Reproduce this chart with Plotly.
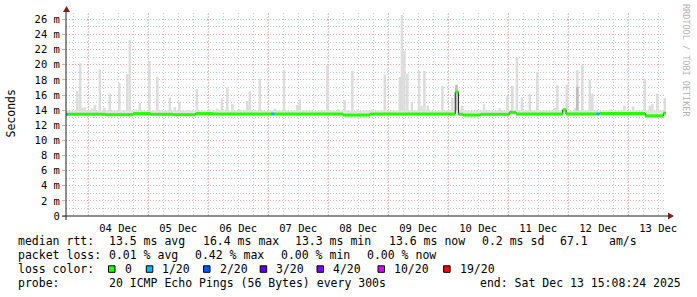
import plotly.graph_objects as go
import pandas as pd

# ---------------- data ----------------
t_start = "2025-12-03 15:08:24"
t_end = "2025-12-13 15:08:24"

day_label_times = ["2025-12-04 12:00", "2025-12-05 12:00", "2025-12-06 12:00", "2025-12-07 12:00",
                   "2025-12-08 12:00", "2025-12-09 12:00", "2025-12-10 12:00", "2025-12-11 12:00",
                   "2025-12-12 12:00", "2025-12-13 12:00"]
day_labels = ["04 Dec", "05 Dec", "06 Dec", "07 Dec", "08 Dec", "09 Dec", "10 Dec", "11 Dec", "12 Dec", "13 Dec"]
midnights = ["2025-12-04", "2025-12-05", "2025-12-06", "2025-12-07", "2025-12-08",
             "2025-12-09", "2025-12-10", "2025-12-11", "2025-12-12", "2025-12-13"]

y_tick_vals = [0, 2, 4, 6, 8, 10, 12, 14, 16, 18, 20, 22, 24, 26]
y_tick_text = ["0", "2 m", "4 m", "6 m", "8 m", "10 m", "12 m", "14 m", "16 m", "18 m",
               "20 m", "22 m", "24 m", "26 m"]

# smoke (max ping per hour, ms) where it rises above the background
smoke_times = [
    "2025-12-03 19:40", "2025-12-03 20:50", "2025-12-03 21:40", "2025-12-03 22:40",
    "2025-12-04 01:40", "2025-12-04 02:40", "2025-12-04 04:40", "2025-12-04 06:30",
    "2025-12-04 08:40", "2025-12-04 12:30", "2025-12-04 15:40", "2025-12-04 16:40",
    "2025-12-04 19:05", "2025-12-04 20:40", "2025-12-05 00:30", "2025-12-05 03:40",
    "2025-12-05 08:40", "2025-12-05 10:40", "2025-12-05 12:30", "2025-12-05 15:40",
    "2025-12-05 19:30", "2025-12-06 00:40", "2025-12-06 03:40", "2025-12-06 05:30",
    "2025-12-06 07:40", "2025-12-06 09:40", "2025-12-06 12:20", "2025-12-06 15:40",
    "2025-12-06 16:40", "2025-12-06 20:40", "2025-12-07 02:40", "2025-12-07 06:20",
    "2025-12-07 11:40", "2025-12-07 12:40", "2025-12-07 23:40", "2025-12-08 04:00",
    "2025-12-08 06:40", "2025-12-08 09:40", "2025-12-08 11:40", "2025-12-08 17:30",
    "2025-12-08 21:30", "2025-12-08 22:40", "2025-12-09 04:40", "2025-12-09 05:30",
    "2025-12-09 06:30", "2025-12-09 07:40", "2025-12-09 09:30", "2025-12-09 12:20",
    "2025-12-09 13:20", "2025-12-09 14:30", "2025-12-09 15:50", "2025-12-09 21:40",
    "2025-12-10 01:40", "2025-12-10 03:20", "2025-12-10 05:30", "2025-12-10 14:20",
    "2025-12-10 20:40", "2025-12-10 23:40", "2025-12-11 01:40", "2025-12-11 03:30",
    "2025-12-11 05:30", "2025-12-11 08:40", "2025-12-11 11:40", "2025-12-11 18:40",
    "2025-12-11 19:40", "2025-12-11 23:30", "2025-12-12 02:40", "2025-12-12 03:40",
    "2025-12-12 05:40", "2025-12-12 08:40", "2025-12-12 09:40", "2025-12-12 17:00",
    "2025-12-12 22:30", "2025-12-13 02:00", "2025-12-13 06:40", "2025-12-13 08:40",
    "2025-12-13 09:40", "2025-12-13 11:40", "2025-12-13 14:40",
]
smoke_max = [
    16.5, 20.2, 14.3, 14.4,
    14.2, 14.7, 19.4, 14.3,
    16.2, 17.6, 18.8, 23.3,
    14.1, 15.0, 20.5, 18.4,
    15.7, 14.4, 15.1, 14.0,
    16.8, 14.1, 14.2, 15.6,
    17.0, 14.8, 14.1, 15.2,
    16.5, 18.1, 14.2, 19.3,
    14.7, 15.4, 19.9, 14.1,
    15.3, 19.2, 14.1, 14.1,
    14.0, 18.7, 18.4, 26.6,
    21.9, 18.8, 15.1, 19.2,
    14.6, 19.2, 14.6, 17.2,
    15.6, 17.4, 14.6, 14.8,
    14.3, 15.9, 17.2, 20.9,
    15.7, 16.1, 19.0, 14.3,
    17.3, 17.4, 14.3, 19.3,
    20.0, 18.0, 16.2, 14.1,
    14.6, 14.5, 18.1, 14.6,
    14.8, 16.2, 15.6,
]
# denser inner smoke for a couple of hours
dark_smoke_times = ["2025-12-10 03:20", "2025-12-12 03:40"]
dark_smoke_max = [17.3, 17.1]

smoke_floor = 13.3        # lowest ping (ms)
smoke_background = 13.95  # typical max ping of a quiet hour (ms)

# median rtt (ms): value holds from each start until the next start
med_starts = ["2025-12-03 15:00", "2025-12-03 16:00", "2025-12-04 07:00", "2025-12-04 18:00",
              "2025-12-05 01:00", "2025-12-05 10:00", "2025-12-05 19:00", "2025-12-06 02:00",
              "2025-12-07 01:10", "2025-12-07 02:30", "2025-12-08 06:00", "2025-12-08 16:40",
              "2025-12-10 02:50", "2025-12-10 04:10", "2025-12-10 06:00", "2025-12-10 13:00",
              "2025-12-11 00:30", "2025-12-11 03:10", "2025-12-11 21:50", "2025-12-11 23:10",
              "2025-12-12 11:20", "2025-12-12 12:30", "2025-12-13 06:50", "2025-12-13 14:05"]
med_values = [13.45, 13.45, 13.4, 13.55,
              13.45, 13.4, 13.55, 13.5,
              13.5, 13.5, 13.35, 13.5,
              16.4, 13.45, 13.35, 13.45,
              13.7, 13.5, 14.05, 13.5,
              13.5, 13.55, 13.25, 13.6]
med_loss = [1, 0, 0, 0,
            0, 0, 0, 0,
            1, 0, 0, 0,
            0, 0, 0, 0,
            0, 0, 0, 0,
            1, 0, 0, 0]

loss_levels = ["0", "1/20", "2/20", "3/20", "4/20", "10/20", "19/20"]
loss_counts = [0, 1, 2, 3, 4, 10, 19]
loss_colors = ["#26ff00", "#00b8ff", "#0059ff", "#5e00ff", "#7e00ff", "#dd00ff", "#ff0000"]

# ---------------- geometry helpers ----------------
W, H = 697, 297
L, R, T, B = 66, 31, 13, 81
PW, PH = W - L - R, H - T - B


def px(x):
    return (x - L) / PW


def py(y):
    return (H - B - y) / PH


MONO = "DejaVu Sans Mono"
GRID = "#c8c8c8"
MGRID = "#eeaaaa"
DASH = "1px,2px"

fig = go.Figure()

# background smoke band
fig.add_trace(go.Scatter(x=[t_start, t_end], y=[smoke_floor, smoke_floor], mode="lines",
                         line=dict(width=0, color="rgba(0,0,0,0)"), hoverinfo="skip", showlegend=False))
fig.add_trace(go.Scatter(x=[t_start, t_end], y=[smoke_background, smoke_background], mode="lines",
                         fill="tonexty", fillcolor="#e2e2e2", line=dict(width=0, color="rgba(0,0,0,0)"),
                         hoverinfo="skip", showlegend=False))

# smoke spikes
fig.add_trace(go.Bar(x=pd.to_datetime(smoke_times), y=[v - smoke_floor for v in smoke_max],
                     base=smoke_floor, width=3600000, marker=dict(color="#dcdcdc", line=dict(width=0)),
                     hoverinfo="skip", showlegend=False))
fig.add_trace(go.Bar(x=pd.to_datetime(dark_smoke_times), y=[v - smoke_floor for v in dark_smoke_max],
                     base=smoke_floor, width=3600000, marker=dict(color="#bcbcbc", line=dict(width=0)),
                     hoverinfo="skip", showlegend=False))

# median: thin dark line (visible at jumps)
fig.add_trace(go.Scatter(x=med_starts + [t_end], y=med_values + [med_values[-1]], mode="lines",
                         line=dict(color="#202020", width=1, shape="hv"), hoverinfo="skip", showlegend=False))

# median: loss-coloured thick segments
ends = med_starts[1:] + [t_end]
for cnt, col in zip(loss_counts, loss_colors):
    xs, ys = [], []
    for s, e, v, lo in zip(med_starts, ends, med_values, med_loss):
        if lo == cnt:
            xs += [s, e, None]
            ys += [v, v, None]
    if xs:
        fig.add_trace(go.Scatter(x=xs, y=ys, mode="lines", line=dict(color=col, width=3),
                                 connectgaps=False, hoverinfo="skip", showlegend=False))

shapes = []
# day (major) grid lines
for m in midnights:
    shapes.append(dict(type="line", xref="x", yref="paper", x0=m, x1=m, y0=0, y1=1,
                       line=dict(color=MGRID, width=1, dash=DASH), layer="below"))
# axis lines
shapes.append(dict(type="line", xref="paper", yref="paper", x0=px(62), x1=px(669), y0=0, y1=0,
                   line=dict(color="#1f1f1f", width=1)))
shapes.append(dict(type="line", xref="paper", yref="paper", x0=0, x1=0, y0=py(220), y1=py(11),
                   line=dict(color="#1f1f1f", width=1)))
# arrows
shapes.append(dict(type="path", xref="paper", yref="paper",
                   path=f"M {px(63)} {py(12)} L {px(70)} {py(12)} L {px(66.5)} {py(6)} Z",
                   fillcolor="#801f1f", line=dict(width=0)))
shapes.append(dict(type="path", xref="paper", yref="paper",
                   path=f"M {px(668)} {py(212.5)} L {px(668)} {py(219.5)} L {px(674)} {py(216)} Z",
                   fillcolor="#801f1f", line=dict(width=0)))

annotations = []


def text(x, y, s, size=11.5, color="black", anchor="left"):
    annotations.append(dict(x=px(x), y=py(y), xref="paper", yref="paper", text=s, showarrow=False,
                            xanchor=anchor, yanchor="middle",
                            font=dict(family=MONO, size=size, color=color)))


# y title
annotations.append(dict(x=px(10.5), y=py(114), xref="paper", yref="paper", text="Seconds",
                        showarrow=False, textangle=-90, xanchor="center", yanchor="middle",
                        font=dict(family=MONO, size=11.5, color="black")))
# watermark
annotations.append(dict(x=px(686), y=py(60), xref="paper", yref="paper", text="RRDTOOL / TOBI OETIKER",
                        showarrow=False, textangle=90, xanchor="center", yanchor="middle",
                        font=dict(family=MONO, size=8.5, color="#b4b4b4")))

# legend lines
r1, r2, r3, r4 = 241, 255, 269, 283
text(16, r1, "median rtt:")
text(107, r1, "13.5 ms avg")
text(200.5, r1, "16.4 ms max")
text(293, r1, "13.3 ms min")
text(386.5, r1, "13.6 ms now")
text(480, r1, "0.2 ms sd")
text(558, r1, "67.1")
text(606.5, r1, "am/s")

text(16, r2, "packet loss:")
text(107, r2, "0.01 % avg")
text(193, r2, "0.42 % max")
text(279, r2, "0.00 % min")
text(365, r2, "0.00 % now")

text(16, r3, "loss color:")
sq_x = [108.5, 146.3, 203.5, 260.2, 317, 378, 443.6]
for lab, col, sx in zip(loss_levels, loss_colors, sq_x):
    shapes.append(dict(type="rect", xref="paper", yref="paper", x0=px(sx), x1=px(sx + 6.5),
                       y0=py(272.3), y1=py(265.8), fillcolor=col, line=dict(color="black", width=1)))
    text(sx + 14, r3, lab)

text(16, r4, "probe:")
text(107, r4, "20 ICMP Echo Pings (56 Bytes) every 300s")
text(478, r4, "end: Sat Dec 13 15:08:24 2025")

fig.update_layout(
    width=W, height=H, margin=dict(l=L, r=R, t=T, b=B, pad=0),
    paper_bgcolor="white", plot_bgcolor="white", showlegend=False, barmode="overlay",
    shapes=shapes, annotations=annotations,
    xaxis=dict(type="date", range=[t_start, t_end], tickmode="array", tickvals=day_label_times,
               ticktext=day_labels, showgrid=True, gridcolor=GRID, griddash=DASH, gridwidth=1,
               minor=dict(dtick=6 * 3600000, tick0="2025-12-03 00:00", showgrid=True,
                          gridcolor=GRID, griddash=DASH, gridwidth=1),
               ticks="outside", ticklen=2, tickcolor="rgba(0,0,0,0)", showline=False, zeroline=False,
               tickfont=dict(family=MONO, size=10.5, color="black")),
    yaxis=dict(range=[0, 26.85], tickmode="array", tickvals=y_tick_vals, ticktext=y_tick_text,
               showgrid=True, gridcolor=MGRID, griddash=DASH, gridwidth=1,
               minor=dict(dtick=1, tick0=0, showgrid=True, gridcolor=GRID, griddash=DASH, gridwidth=1),
               ticks="outside", ticklen=3, tickcolor=MGRID, showline=False, zeroline=False,
               tickfont=dict(family=MONO, size=10.5, color="black")),
)

fig.write_html("out.html")
